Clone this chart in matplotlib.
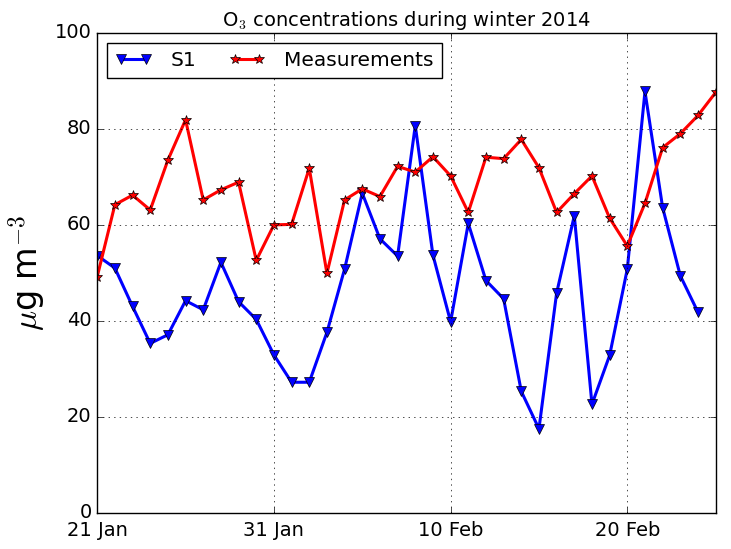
import matplotlib
matplotlib.use("Agg")
import matplotlib.pyplot as plt
import matplotlib.dates as mdates
import numpy as np
import datetime as dt

start = dt.date(2014, 1, 21)
s1_values = [53.6, 51.0, 43.0, 35.3, 37.1, 44.2, 42.3, 52.2, 44.0, 40.3,
             32.9, 27.2, 27.2, 37.6, 50.8, 66.6, 57.1, 53.5, 80.7, 53.7,
             39.8, 60.3, 48.4, 44.6, 25.3, 17.5, 45.8, 61.9, 22.6, 32.8,
             50.8, 87.8, 63.6, 49.4, 41.8]
meas_values = [49.2, 64.2, 66.2, 63.1, 73.5, 81.9, 65.2, 67.3, 68.9, 52.6,
               60.0, 60.1, 71.8, 49.9, 65.2, 67.5, 65.9, 72.2, 71.0, 74.2,
               70.2, 62.6, 74.1, 73.8, 77.8, 71.9, 62.6, 66.5, 70.2, 61.4,
               55.6, 64.5, 76.1, 79.0, 82.8, 87.6]
tick_labels = ["21 Jan", "31 Jan", "10 Feb", "20 Feb"]

s1_dates = [start + dt.timedelta(days=i) for i in range(len(s1_values))]
meas_dates = [start + dt.timedelta(days=i) for i in range(len(meas_values))]

plt.style.use("classic")
fig = plt.figure(figsize=(7.31, 5.49), dpi=100)
ax = fig.add_axes([0.133, 0.066, 0.846, 0.874])

ax.plot(s1_dates, s1_values, color="b", marker="v", lw=2.2, ms=7, label="S1")
ax.plot(meas_dates, meas_values, color="r", marker="*", lw=2.2, ms=7, label="Measurements")

ax.set_xlim(start, start + dt.timedelta(days=35))
ax.set_ylim(0, 100)
tick_dates = [start + dt.timedelta(days=10 * i) for i in range(len(tick_labels))]
ax.set_xticks(mdates.date2num(tick_dates))
ax.set_xticklabels(tick_labels, fontsize=14)
ax.set_yticks(np.arange(0, 101, 20))
ax.tick_params(axis="y", labelsize=14)
ax.tick_params(axis="x", pad=6)
ax.grid(True)
ax.set_title("O$_3$ concentrations during winter 2014", fontsize=14)
ax.set_ylabel(r"$\mu$g m$^{-3}$", fontsize=24)
ax.legend(loc="upper left", ncol=2, fontsize=14.5, numpoints=2,
          handlelength=1.8, handletextpad=0.95, columnspacing=1.6)

fig.savefig("out.png", dpi=100)
